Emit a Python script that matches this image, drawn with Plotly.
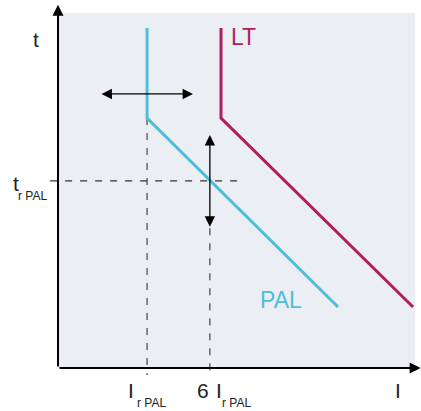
import plotly.graph_objects as go

# ---- data (chart units: x 0..100 = plot width, y 0..100 = plot height) ----
pal_x = [24.8, 24.8, 78.0]
pal_y = [95.8, 70.4, 17.2]
lt_x = [45.4, 45.4, 98.9]
lt_y = [95.8, 70.4, 17.2]

i_r = 24.8          # I_r PAL
i_6 = 42.3          # 6 I_r PAL
t_r = 52.7          # t_r PAL

dash_v1_y = [70.4, -2.0]
dash_v2_y = [39.4, -2.0]
dash_h_x = [-2.2, 49.9]

harrow_x = [11.7, 37.6]
harrow_y = 77.2
varrow_y = [65.6, 39.4]

axis_x_end = 101.0
axis_y_end = 102.3

BLUE = "#4DBFDB"
RED = "#B01E5F"
GRAY_BG = "#EBEEF2"
DASH = "#333333"
DASH_STYLE = "7px,8px"
FONT = "Liberation Sans, Arial, sans-serif"

fig = go.Figure()

# dashed guides
fig.add_trace(go.Scatter(x=[i_r, i_r], y=dash_v1_y, mode="lines",
                         line=dict(color=DASH, width=1.1, dash=DASH_STYLE), hoverinfo="skip"))
fig.add_trace(go.Scatter(x=[i_6, i_6], y=dash_v2_y, mode="lines",
                         line=dict(color=DASH, width=1.1, dash=DASH_STYLE), hoverinfo="skip"))
fig.add_trace(go.Scatter(x=dash_h_x, y=[t_r, t_r], mode="lines",
                         line=dict(color=DASH, width=1.1, dash=DASH_STYLE), hoverinfo="skip"))

# curves
fig.add_trace(go.Scatter(x=pal_x, y=pal_y, mode="lines",
                         line=dict(color=BLUE, width=3), hoverinfo="skip"))
fig.add_trace(go.Scatter(x=lt_x, y=lt_y, mode="lines",
                         line=dict(color=RED, width=3), hoverinfo="skip"))

# background rectangle
fig.add_shape(type="rect", xref="x", yref="y", x0=0, x1=99.5, y0=0, y1=100,
              fillcolor=GRAY_BG, line=dict(width=0), layer="below")

ann = []
# axes with arrows
ann.append(dict(x=axis_x_end, y=0, ax=0, ay=0, xref="x", yref="y", axref="x", ayref="y",
                showarrow=True, arrowhead=2, arrowsize=1.1, arrowwidth=2, arrowcolor="black", text=""))
ann.append(dict(x=0, y=axis_y_end, ax=0, ay=0, xref="x", yref="y", axref="x", ayref="y",
                showarrow=True, arrowhead=2, arrowsize=1.1, arrowwidth=2, arrowcolor="black", text=""))
# double arrows
ann.append(dict(x=harrow_x[1], y=harrow_y, ax=harrow_x[0], ay=harrow_y, xref="x", yref="y",
                axref="x", ayref="y", showarrow=True, arrowhead=2, startarrowhead=2,
                arrowside="end+start", arrowsize=1.6, startarrowsize=1.6, arrowwidth=1.3,
                arrowcolor="black", text=""))
ann.append(dict(x=i_6, y=varrow_y[0], ax=i_6, ay=varrow_y[1], xref="x", yref="y",
                axref="x", ayref="y", showarrow=True, arrowhead=2, startarrowhead=2,
                arrowside="end+start", arrowsize=1.6, startarrowsize=1.6, arrowwidth=1.3,
                arrowcolor="black", text=""))

def txt(x, y, s, size, color="#222222"):
    ann.append(dict(x=x, y=y, xref="x", yref="y", text=s, showarrow=False,
                    font=dict(family=FONT, size=size, color=color),
                    xanchor="center", yanchor="middle"))

txt(-6.1, 92.4, "t", 21)
txt(51.8, 93.2, "LT", 23, RED)
txt(62.1, 19.2, "PAL", 23, BLUE)
txt(-11.7, 52.1, "t", 21)
txt(-7.0, 48.5, "r PAL", 12)
txt(20.3, -6.3, "I", 21)
txt(25.9, -9.9, "r PAL", 12)
txt(40.5, -6.3, "6", 21)
txt(44.8, -6.3, "I", 21)
txt(49.6, -9.9, "r PAL", 12)
txt(94.7, -6.3, "I", 21)

fig.update_layout(
    width=421, height=411, margin=dict(l=0, r=0, t=0, b=0),
    paper_bgcolor="white", plot_bgcolor="white", showlegend=False,
    xaxis=dict(range=[-16.16, 101.11], visible=False, fixedrange=True),
    yaxis=dict(range=[-12.11, 103.66], visible=False, fixedrange=True),
    annotations=ann,
)

fig.write_html("out.html", config={"displayModeBar": False},
               post_script="document.body.style.margin='0px';document.body.style.overflow='hidden';")
